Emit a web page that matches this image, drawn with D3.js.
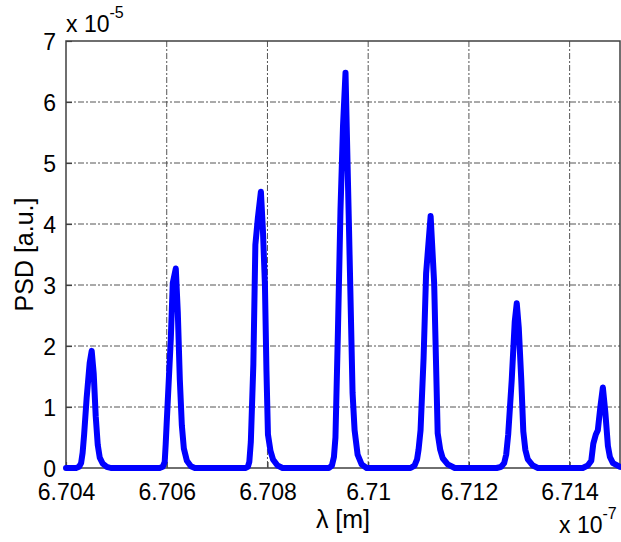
<!DOCTYPE html>
<html>
<head>
<meta charset="utf-8">
<script src="https://cdn.jsdelivr.net/npm/d3@7"></script>
<style>
  body { margin: 0; background: #fff; }
  text { font-family: "Liberation Sans", Arial, sans-serif; fill: #000; }
  .grid line { stroke: #555; stroke-width: 1; stroke-dasharray: 6,2,2,2; }
</style>
</head>
<body>
<div id="chart"></div>
<script>
// wavelength in units of 1e-7 m
var wavelength = [
  6.70400, 6.70420, 6.70426, 6.70430, 6.70433, 6.70436, 6.70441, 6.70447, 6.70451, 6.70455, 6.70459, 6.70463, 6.70467, 6.70473, 6.70481, 6.70489,
  6.70586, 6.70592, 6.70596, 6.70598, 6.70600, 6.70608, 6.70612, 6.70618, 6.70622, 6.70626, 6.70630, 6.70634, 6.70640, 6.70648, 6.70656,
  6.70756, 6.70761, 6.70764, 6.70767, 6.70772, 6.70776, 6.70781, 6.70787, 6.70791, 6.70795, 6.70798, 6.70801, 6.70806, 6.70811, 6.70820, 6.70830,
  6.70922, 6.70928, 6.70932, 6.70935, 6.70940, 6.70945, 6.70950, 6.70955, 6.70962, 6.70969, 6.70973, 6.70979, 6.70987, 6.70997,
  6.71084, 6.71092, 6.71097, 6.71100, 6.71104, 6.71110, 6.71115, 6.71124, 6.71131, 6.71138, 6.71143, 6.71148, 6.71158, 6.71172,
  6.71255, 6.71264, 6.71270, 6.71274, 6.71278, 6.71285, 6.71291, 6.71295, 6.71299, 6.71304, 6.71308, 6.71312, 6.71317, 6.71327, 6.71337,
  6.71426, 6.71436, 6.71443, 6.71447, 6.71452, 6.71456, 6.71461, 6.71466, 6.71471, 6.71476, 6.71480, 6.71486, 6.71500
];
// PSD in units of 1e-5 a.u.
var psd = [
  0.00, 0.00, 0.02, 0.08, 0.25, 0.55, 1.15, 1.72, 1.92, 1.55, 0.85, 0.38, 0.17, 0.07, 0.02, 0.00,
  0.00, 0.02, 0.10, 0.40, 0.75, 2.10, 3.03, 3.27, 2.55, 1.45, 0.70, 0.32, 0.12, 0.03, 0.00,
  0.00, 0.02, 0.10, 0.43, 1.70, 3.66, 4.10, 4.53, 3.90, 3.00, 1.60, 0.55, 0.28, 0.14, 0.04, 0.00,
  0.00, 0.04, 0.18, 0.50, 2.26, 4.23, 5.60, 6.48, 3.90, 1.23, 0.62, 0.22, 0.06, 0.00,
  0.00, 0.04, 0.14, 0.30, 0.62, 1.80, 3.19, 4.13, 3.03, 0.57, 0.30, 0.16, 0.06, 0.00,
  0.00, 0.02, 0.08, 0.22, 0.55, 1.44, 2.40, 2.70, 2.30, 1.44, 0.60, 0.30, 0.14, 0.04, 0.00,
  0.00, 0.04, 0.12, 0.40, 0.55, 0.62, 1.00, 1.32, 0.90, 0.36, 0.18, 0.08, 0.02
];
var xTicks = [6.704, 6.706, 6.708, 6.710, 6.712, 6.714];
var xTickLabels = ["6.704", "6.706", "6.708", "6.71", "6.712", "6.714"];
var yTicks = [0, 1, 2, 3, 4, 5, 6, 7];

var width = 621, height = 542;
var margin = {left: 66, right: 1, top: 41, bottom: 74};
var w = width - margin.left - margin.right;
var h = height - margin.top - margin.bottom;

var svg = d3.select("#chart").append("svg")
  .attr("width", width)
  .attr("height", height);
var g = svg.append("g")
  .attr("transform", "translate(" + margin.left + "," + margin.top + ")");

var x = d3.scaleLinear().domain([6.704, 6.715]).range([0, w]);
var y = d3.scaleLinear().domain([0, 7]).range([h, 0]);

// grid
g.append("g").attr("class", "grid")
  .selectAll("line").data(xTicks.slice(1)).enter().append("line")
  .attr("x1", function(d) { return x(d); }).attr("x2", function(d) { return x(d); })
  .attr("y1", 0).attr("y2", h);
g.append("g").attr("class", "grid")
  .selectAll("line").data(yTicks.slice(1, -1)).enter().append("line")
  .attr("x1", 0).attr("x2", w)
  .attr("y1", function(d) { return y(d); }).attr("y2", function(d) { return y(d); });

// axes
var xAxis = d3.axisBottom(x).tickValues(xTicks)
  .tickFormat(function(d, i) { return xTickLabels[i]; })
  .tickSizeInner(-6).tickSizeOuter(0).tickPadding(16);
var yAxis = d3.axisLeft(y).tickValues(yTicks)
  .tickFormat(d3.format("d"))
  .tickSizeInner(-6).tickSizeOuter(0).tickPadding(10);

var gx = g.append("g").attr("transform", "translate(0," + h + ")").call(xAxis);
var gy = g.append("g").call(yAxis);
[gx, gy].forEach(function(a) {
  a.select(".domain").remove();
  a.selectAll(".tick line").attr("stroke", "#404040").attr("stroke-width", 1.2);
  a.selectAll(".tick text").style("font-size", "23px").attr("fill", "#000");
});
gx.selectAll(".tick text").attr("dy", "0.71em");
gy.selectAll(".tick text").attr("dy", "0.35em");

// box
g.append("rect")
  .attr("x", 0).attr("y", 0).attr("width", w).attr("height", h)
  .attr("fill", "none").attr("stroke", "#404040").attr("stroke-width", 1.5);

// line
var line = d3.line()
  .x(function(d, i) { return x(wavelength[i]); })
  .y(function(d) { return y(d); });
g.append("path")
  .datum(psd)
  .attr("d", line)
  .attr("fill", "none")
  .attr("stroke", "#0000ff")
  .attr("stroke-width", 6)
  .attr("stroke-linejoin", "round")
  .attr("stroke-linecap", "round");

// exponent labels
var e1 = svg.append("text").attr("x", 66).attr("y", 32).style("font-size", "23px");
e1.append("tspan").text("x 10");
e1.append("tspan").attr("dy", -14).style("font-size", "16px").text("-5");

var e2 = svg.append("text").attr("x", 559).attr("y", 533).style("font-size", "23px");
e2.append("tspan").text("x 10");
e2.append("tspan").attr("dy", -14).style("font-size", "16px").text("-7");

// axis labels
svg.append("text")
  .attr("x", margin.left + w / 2).attr("y", 528)
  .attr("text-anchor", "middle")
  .style("font-size", "25px")
  .text("λ [m]");
svg.append("text")
  .attr("transform", "translate(33," + (margin.top + h / 2) + ") rotate(-90)")
  .attr("text-anchor", "middle")
  .style("font-size", "25px")
  .text("PSD [a.u.]");
</script>
</body>
</html>
